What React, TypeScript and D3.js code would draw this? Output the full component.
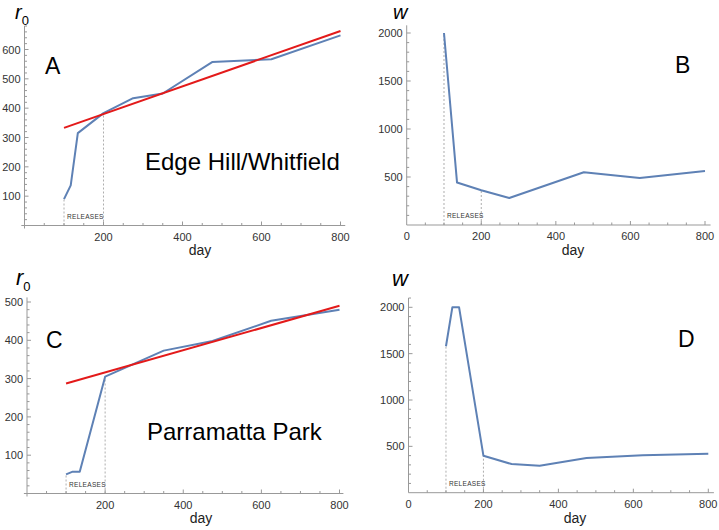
import React, { useEffect, useRef } from "react";
import * as d3 from "d3";

// panel A / B : Edge Hill / Whitfield
const daysEdgeR0 = [100, 117, 135, 200, 275, 350, 475, 625, 800];
const r0Edge = [90, 137, 315, 383, 434, 450, 557, 567, 648];
const fitDays = [100, 800];
const fitEdge = [333, 663];
const daysEdgeW = [100, 135, 200, 275, 475, 625, 800];
const wEdge = [2000, 442, 362, 281, 549, 490, 563];

// panel C / D : Parramatta Park
const daysParraR0 = [100, 117, 135, 200, 350, 475, 625, 800];
const r0Parra = [50, 57, 57, 305, 373, 398, 451, 480];
const fitParra = [287, 490];
const daysParraW = [100, 117, 135, 200, 275, 350, 475, 625, 800];
const wParra = [1580, 2000, 2000, 398, 309, 290, 375, 405, 420];

const releaseDays = [100, 200];
const r0Ticks = [100, 200, 300, 400, 500, 600];
const wTicks = [500, 1000, 1500, 2000];

const BLUE = "#5e81b5";
const RED = "#e31a1a";
const AXIS = "#999";
const FONT = "Liberation Sans, Arial, sans-serif";

type Panel = {
  letter: string;
  letterPos: [number, number];
  site?: string;
  sitePos?: [number, number];
  ylab: "r0" | "w";
  ylabPos: [number, number];
  ylabSize: number;
  dayPos: [number, number];
  xr: [number, number];
  yr: [number, number];
  yMax: number;
  yTop: number;
  xMin: number;
  xMax: number;
  yTicks: number[];
  yMinorStep: number;
  xLabels: number[];
  yBelow: number;
  days: number[];
  vals: number[];
  fit?: number[];
};

const panels: Panel[] = [
  {
    letter: "A", letterPos: [45, 74], site: "Edge Hill/Whitfield", sitePos: [145, 170],
    ylab: "r0", ylabPos: [15, 18.5], ylabSize: 20, dayPos: [200, 255],
    xr: [24.5, 340.5], yr: [225.5, 49.5], yMax: 600, yTop: 680, xMin: -8, xMax: 812,
    yTicks: r0Ticks.filter(t => t <= 600), yMinorStep: 20, xLabels: [200, 400, 600, 800], yBelow: 3,
    days: daysEdgeR0, vals: r0Edge, fit: fitEdge,
  },
  {
    letter: "B", letterPos: [675, 73],
    ylab: "w", ylabPos: [393, 18.5], ylabSize: 20, dayPos: [573, 255],
    xr: [406.7, 705], yr: [225, 33], yMax: 2000, yTop: 2080, xMin: 0, xMax: 815,
    yTicks: wTicks, yMinorStep: 100, xLabels: [0, 200, 400, 600, 800], yBelow: 0,
    days: daysEdgeW, vals: wEdge,
  },
  {
    letter: "C", letterPos: [46, 348], site: "Parramatta Park", sitePos: [147, 440],
    ylab: "r0", ylabPos: [16, 285], ylabSize: 22, dayPos: [201, 523],
    xr: [27, 339.5], yr: [493.5, 302], yMax: 500, yTop: 512, xMin: -8, xMax: 810,
    yTicks: r0Ticks.filter(t => t <= 500), yMinorStep: 20, xLabels: [200, 400, 600, 800], yBelow: 3,
    days: daysParraR0, vals: r0Parra, fit: fitParra,
  },
  {
    letter: "D", letterPos: [678, 347],
    ylab: "w", ylabPos: [392, 286], ylabSize: 22, dayPos: [575, 523],
    xr: [408.5, 708.3], yr: [492.7, 307.3], yMax: 2000, yTop: 2100, xMin: 0, xMax: 815,
    yTicks: wTicks, yMinorStep: 100, xLabels: [0, 200, 400, 600, 800], yBelow: 0,
    days: daysParraW, vals: wParra,
  },
];

const App = () => {
  const ref = useRef<SVGSVGElement>(null);

  useEffect(() => {
    const svg = d3.select(ref.current);
    svg.selectAll("*").remove();

    panels.forEach(p => {
      const x = d3.scaleLinear().domain([0, 800]).range(p.xr);
      const y = d3.scaleLinear().domain([0, p.yMax]).range(p.yr);
      const g = svg.append("g");

      // axes lines
      g.append("line")
        .attr("x1", x(p.xMin)).attr("x2", x(p.xMax))
        .attr("y1", y(0)).attr("y2", y(0))
        .attr("stroke", AXIS).attr("stroke-width", 1);
      g.append("line")
        .attr("x1", x(0)).attr("x2", x(0))
        .attr("y1", y(0) + p.yBelow).attr("y2", y(p.yTop))
        .attr("stroke", AXIS).attr("stroke-width", 1);

      // x ticks (inward / up)
      d3.range(50, 801, 50).forEach(t => {
        const major = t % 200 === 0;
        g.append("line")
          .attr("x1", x(t)).attr("x2", x(t))
          .attr("y1", y(0)).attr("y2", y(0) - (major ? 4 : 2.5))
          .attr("stroke", AXIS).attr("stroke-width", 1);
      });
      p.xLabels.forEach(t => {
        g.append("text")
          .attr("x", x(t)).attr("y", y(0) + 15)
          .attr("text-anchor", "middle")
          .attr("font-family", FONT).attr("font-size", 11).attr("fill", "#333")
          .text(t);
      });

      // y ticks (inward / right)
      d3.range(p.yMinorStep, p.yTop + 0.1, p.yMinorStep).forEach(t => {
        const major = p.yTicks.includes(t);
        g.append("line")
          .attr("x1", x(0)).attr("x2", x(0) + (major ? 4 : 2.5))
          .attr("y1", y(t)).attr("y2", y(t))
          .attr("stroke", AXIS).attr("stroke-width", 1);
      });
      p.yTicks.forEach(t => {
        g.append("text")
          .attr("x", x(0) - 4).attr("y", y(t) + 4)
          .attr("text-anchor", "end")
          .attr("font-family", FONT).attr("font-size", 11).attr("fill", "#333")
          .text(t);
      });

      // release markers
      const valAt = (d: number) => {
        const i = p.days.indexOf(d);
        if (i >= 0) return p.vals[i];
        return d3.scaleLinear().domain(p.days).range(p.vals)(d);
      };
      releaseDays.forEach(d => {
        g.append("line")
          .attr("x1", x(d)).attr("x2", x(d))
          .attr("y1", y(0)).attr("y2", y(valAt(d)))
          .attr("stroke", "#999").attr("stroke-width", 0.8)
          .attr("stroke-dasharray", "2,2");
      });
      g.append("text")
        .attr("x", x(releaseDays[0]) + 3).attr("y", y(0) - 7)
        .attr("font-family", FONT).attr("font-size", 6.5)
        .attr("letter-spacing", 0.3).attr("fill", "#333")
        .text("RELEASES");

      // data line
      const line = d3.line<number>()
        .x((d, i) => x(p.days[i]))
        .y(d => y(d));
      g.append("path")
        .attr("d", line(p.vals))
        .attr("fill", "none").attr("stroke", BLUE)
        .attr("stroke-width", 2).attr("stroke-linejoin", "round");

      if (p.fit) {
        const fitLine = d3.line<number>()
          .x((d, i) => x(fitDays[i]))
          .y(d => y(d));
        g.append("path")
          .attr("d", fitLine(p.fit))
          .attr("fill", "none").attr("stroke", RED).attr("stroke-width", 2);
      }

      // labels
      g.append("text")
        .attr("x", p.letterPos[0]).attr("y", p.letterPos[1])
        .attr("font-family", FONT).attr("font-size", 23).attr("fill", "#000")
        .text(p.letter);
      if (p.site && p.sitePos) {
        g.append("text")
          .attr("x", p.sitePos[0]).attr("y", p.sitePos[1])
          .attr("font-family", FONT).attr("font-size", 24).attr("fill", "#000")
          .text(p.site);
      }
      g.append("text")
        .attr("x", p.dayPos[0]).attr("y", p.dayPos[1])
        .attr("text-anchor", "middle")
        .attr("font-family", FONT).attr("font-size", 14).attr("fill", "#222")
        .text("day");

      const yl = g.append("text")
        .attr("x", p.ylabPos[0]).attr("y", p.ylabPos[1])
        .attr("font-family", FONT).attr("fill", "#000");
      if (p.ylab === "r0") {
        yl.append("tspan").attr("font-size", p.ylabSize).attr("font-style", "italic").text("r");
        yl.append("tspan").attr("font-size", 13).attr("dx", 0).attr("dy", 6).text("0");
      } else {
        yl.append("tspan").attr("font-size", p.ylabSize).attr("font-style", "italic").text("w");
      }
    });
  }, []);

  return (
    <svg
      ref={ref}
      width={719}
      height={530}
      style={{ position: "absolute", left: 0, top: 0, background: "#fff" }}
    />
  );
};

export default App;
